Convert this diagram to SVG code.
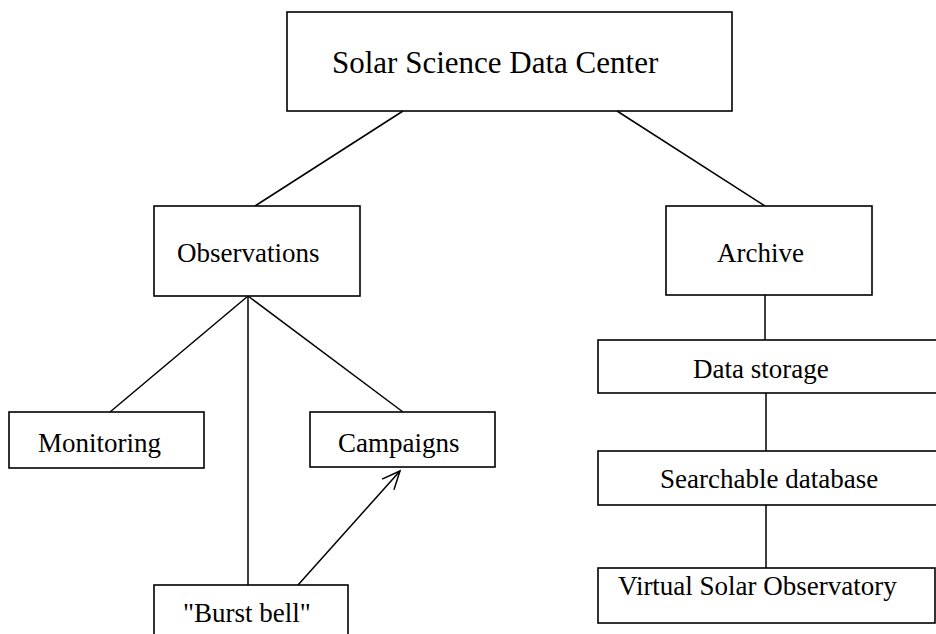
<svg xmlns="http://www.w3.org/2000/svg" width="936" height="634" viewBox="0 0 936 634">
  <style>
    .box { fill: #ffffff; stroke: #000000; stroke-width: 1.6; }
    .lbl { font-family: "Liberation Serif", "Times New Roman", serif; font-size: 27px; fill: #000000; }
    .title { font-size: 31px; }
    .link { fill: none; stroke: #000000; stroke-width: 1.5; }
  </style>
  <defs>
    <marker id="openArrow" viewBox="0 0 22 20" refX="20" refY="10" markerWidth="22" markerHeight="20" markerUnits="userSpaceOnUse" orient="auto">
      <path d="M2,2 L20,10 L2,18" fill="none" stroke="#000000" stroke-width="1.5"/>
    </marker>
  </defs>
  <rect width="936" height="634" fill="#ffffff"/>

  <!-- connectors -->
  <g id="connectors">
    <line class="link" x1="403" y1="111" x2="255" y2="206"/>
    <line class="link" x1="617" y1="111" x2="765" y2="206"/>
    <line class="link" x1="248" y1="296" x2="110" y2="412"/>
    <line class="link" x1="248" y1="296" x2="403" y2="412"/>
    <line class="link" x1="248" y1="296" x2="248" y2="585"/>
    <line class="link" x1="765" y1="295" x2="765" y2="340"/>
    <line class="link" x1="766" y1="393" x2="766" y2="451"/>
    <line class="link" x1="766" y1="505" x2="766" y2="568"/>
    <line class="link" x1="298" y1="585" x2="400" y2="471" marker-end="url(#openArrow)"/>
  </g>

  <g id="solar-science-data-center">
    <rect class="box" x="287" y="12" width="445" height="99"/>
    <text class="lbl title" x="332" y="73">Solar Science Data Center</text>
  </g>

  <g id="observations">
    <rect class="box" x="154" y="206" width="206" height="90"/>
    <text class="lbl" x="177" y="262">Observations</text>
  </g>

  <g id="archive">
    <rect class="box" x="666" y="206" width="206" height="89"/>
    <text class="lbl" x="717" y="262">Archive</text>
  </g>

  <g id="monitoring">
    <rect class="box" x="9" y="412" width="195" height="56"/>
    <text class="lbl" x="38" y="452">Monitoring</text>
  </g>

  <g id="campaigns">
    <rect class="box" x="310" y="412" width="185" height="55"/>
    <text class="lbl" x="338" y="452">Campaigns</text>
  </g>

  <g id="burst-bell">
    <rect class="box" x="154" y="585" width="194" height="60"/>
    <text class="lbl" x="183" y="622">"Burst bell"</text>
  </g>

  <g id="data-storage">
    <rect class="box" x="598" y="340" width="350" height="53"/>
    <text class="lbl" x="693" y="378">Data storage</text>
  </g>

  <g id="searchable-database">
    <rect class="box" x="598" y="451" width="350" height="54"/>
    <text class="lbl" x="660" y="488">Searchable database</text>
  </g>

  <g id="virtual-solar-observatory">
    <rect class="box" x="598" y="568" width="337" height="55"/>
    <text class="lbl" x="618" y="595">Virtual Solar Observatory</text>
  </g>
</svg>
